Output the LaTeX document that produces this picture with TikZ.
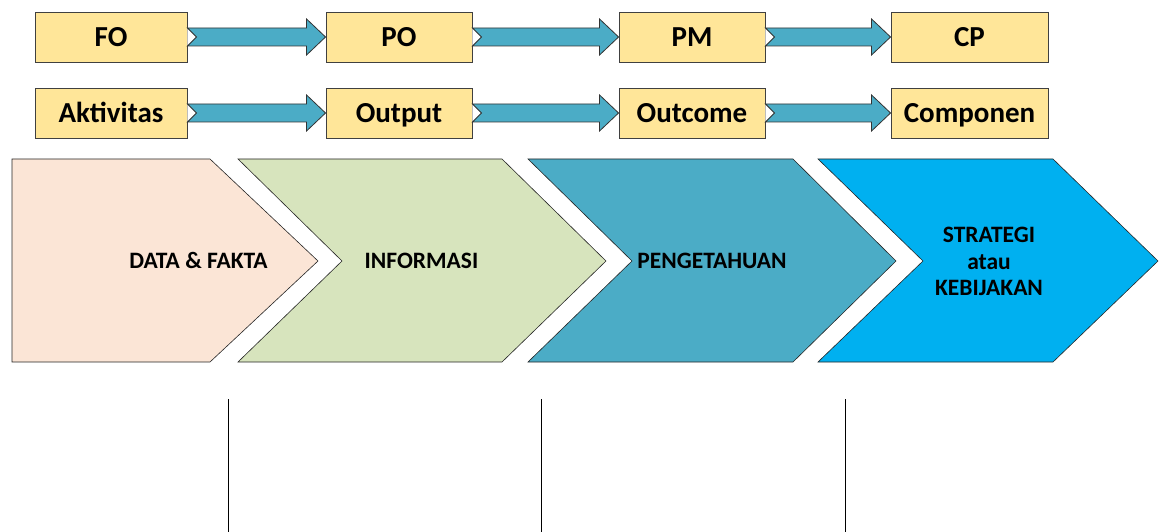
\documentclass[tikz,border=0pt]{standalone}
\usepackage{fontspec}
\setmainfont{Carlito}
\usetikzlibrary{calc}
\definecolor{boxfill}{HTML}{FFE699}
\definecolor{arrfill}{HTML}{4BACC6}
\definecolor{peach}{HTML}{FBE5D6}
\definecolor{lgreen}{HTML}{D7E4BD}
\definecolor{teal}{HTML}{4BACC6}
\definecolor{sky}{HTML}{00B0F0}
\tikzset{
  labelbox/.style={draw=black!75, line width=0.9pt, fill=boxfill, inner sep=0pt,
    minimum height=50pt, text height=19pt, text depth=0pt,
    font=\fontsize{29}{29}\selectfont\bfseries},
  flowarrow/.style={draw=black!80, line width=0.8pt, fill=arrfill, line join=miter},
  chev/.style={draw=black!85, line width=0.6pt},
  chevtext/.style={inner sep=0pt, anchor=base, font=\fontsize{23.5}{23.5}\selectfont\bfseries},
  divline/.style={draw=black, line width=0.8pt}
}
\newcommand{\flowarr}[2]{%
  \fill[white] ($(#1.east)+(0,-9)$) -- ($(#1.east)+(9,0)$) -- ($(#1.east)+(0,9)$) -- cycle;
  \draw[flowarrow] ($(#1.east)+(0,-9)$) -- ($(#2.west)+(-19,-9)$) -- ($(#2.west)+(-19,-18)$)
    -- (#2.west) -- ($(#2.west)+(-19,18)$) -- ($(#2.west)+(-19,9)$)
    -- ($(#1.east)+(0,9)$) -- ($(#1.east)+(9,0)$) -- cycle;}
\begin{document}
\begin{tikzpicture}[x=1pt,y=-1pt]
\useasboundingbox (0,0) rectangle (1162,532);
% top rows
\node[labelbox, minimum width=152pt] (fo)  at (111,37) {FO};
\node[labelbox, minimum width=146pt] (po)  at (399,37) {PO};
\node[labelbox, minimum width=146pt] (pm)  at (692,37) {PM};
\node[labelbox, minimum width=157pt] (cp)  at (969.5,37) {CP};
\node[labelbox, minimum width=152pt] (akt) at (111,113) {Aktivitas};
\node[labelbox, minimum width=146pt] (out) at (399,113) {Output};
\node[labelbox, minimum width=146pt] (oc)  at (692,113) {Outcome};
\node[labelbox, minimum width=157pt] (com) at (969.5,113) {Componen};
\flowarr{fo}{po}
\flowarr{po}{pm}
\flowarr{pm}{cp}
\flowarr{akt}{out}
\flowarr{out}{oc}
\flowarr{oc}{com}
% chevrons
\draw[chev, fill=peach] (12,159) -- (210,159) -- (318,261) -- (210,362) -- (12,362) -- cycle;
\draw[chev, fill=lgreen] (238,159) -- (502,159) -- (606,261) -- (502,362) -- (238,362) -- (342,261) -- cycle;
\draw[chev, fill=teal] (528,159) -- (793,159) -- (896,261) -- (793,362) -- (528,362) -- (632,261) -- cycle;
\draw[chev, fill=sky] (818,159) -- (1053,159) -- (1158,261) -- (1053,362) -- (818,362) -- (923,261) -- cycle;
\node[chevtext] (data) at (198.5,268) {DATA \& FAKTA};
\node[chevtext] (info) at (421.5,268) {INFORMASI};
\node[chevtext] (peng) at (712,268) {PENGETAHUAN};
\node[inner sep=0pt, align=center, font=\fontsize{23.5}{26.5}\selectfont\bfseries] (strat) at (989,261.5) {STRATEGI\\atau\\KEBIJAKAN};
% vertical lines
\draw[divline] (228,399) -- (228,532);
\draw[divline] (541.5,399) -- (541.5,532);
\draw[divline] (845.5,399) -- (845.5,532);
\end{tikzpicture}
\end{document}
